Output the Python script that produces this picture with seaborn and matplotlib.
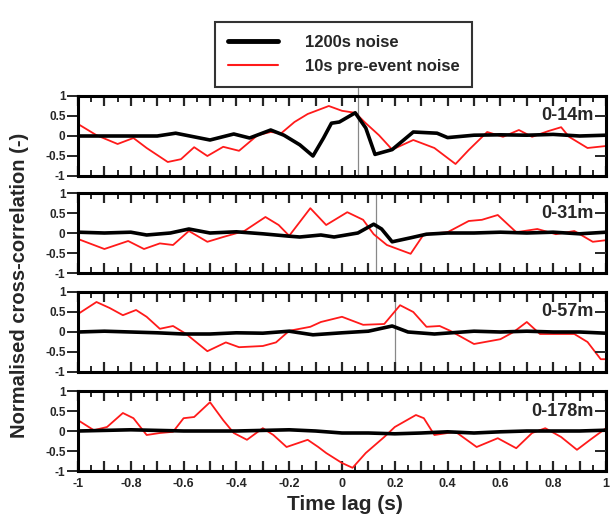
import numpy as np
import pandas as pd
import matplotlib
matplotlib.use('Agg')
import matplotlib.pyplot as plt
from matplotlib.ticker import MultipleLocator, FuncFormatter
from matplotlib.lines import Line2D
import seaborn as sns

sns.set_style('white')
plt.rcParams['font.family'] = ['Liberation Sans', 'DejaVu Sans']
plt.rcParams['font.weight'] = 'bold'

# distances labelled in each panel
labels = ['0-14m', '0-31m', '0-57m', '0-178m']
# time lag of the grey marker line per panel (None = no line)
marker_lag = [0.06, 0.13, 0.2, None]

# 1200s noise (black)
black_t1 = [-1, -0.8, -0.7, -0.63, -0.5, -0.41, -0.35, -0.27, -0.22, -0.16, -0.11, -0.07, -0.04, -0.01,
            0.05, 0.09, 0.125, 0.19, 0.27, 0.36, 0.4, 0.5, 0.6, 0.7, 0.8, 0.9, 1.0]
black_v1 = [0.0, 0.0, 0.0, 0.07, -0.1, 0.05, -0.05, 0.15, 0.02, -0.22, -0.5, -0.05, 0.32, 0.35,
            0.58, 0.2, -0.46, -0.34, 0.1, 0.07, -0.04, 0.02, 0.03, 0.02, 0.04, 0.0, 0.02]
black_t2 = [-1, -0.9, -0.8, -0.74, -0.65, -0.58, -0.5, -0.4, -0.3, -0.2, -0.16, -0.08, -0.03, 0.06,
            0.12, 0.15, 0.19, 0.26, 0.32, 0.4, 0.5, 0.6, 0.7, 0.8, 0.9, 1.0]
black_v2 = [0.02, 0.0, 0.02, -0.05, 0.0, 0.1, 0.0, 0.03, -0.02, -0.08, -0.1, -0.05, -0.1, 0.0,
            0.22, 0.1, -0.22, -0.12, -0.03, 0.0, 0.0, 0.02, 0.0, 0.02, -0.02, 0.02]
black_t3 = [-1, -0.9, -0.8, -0.7, -0.6, -0.5, -0.4, -0.3, -0.2, -0.11, 0.0, 0.1, 0.19, 0.25, 0.35,
            0.5, 0.6, 0.7, 0.8, 0.9, 1.0]
black_v3 = [0.0, 0.02, 0.0, -0.02, -0.05, -0.05, -0.02, -0.03, 0.02, -0.07, -0.02, 0.02, 0.15, 0.0, -0.05,
            0.02, 0.0, 0.02, 0.0, 0.0, -0.03]
black_t4 = [-1, -0.8, -0.6, -0.4, -0.2, -0.1, 0.0, 0.1, 0.2, 0.3, 0.4, 0.5, 0.6, 0.7, 0.8, 0.9, 1.0]
black_v4 = [0.0, 0.03, 0.0, 0.0, 0.03, 0.0, -0.05, -0.05, -0.07, -0.05, -0.02, -0.05, -0.02, 0.0, 0.0, 0.0, 0.02]

# 10s pre-event noise (red)
red_t1 = [-1, -0.93, -0.85, -0.79, -0.74, -0.66, -0.61, -0.56, -0.51, -0.45, -0.39, -0.32, -0.27, -0.23,
          -0.18, -0.13, -0.09, -0.05, 0.0, 0.05, 0.09, 0.14, 0.19, 0.27, 0.35, 0.43, 0.48, 0.55, 0.61,
          0.67, 0.72, 0.78, 0.83, 0.86, 0.93, 1.0]
red_v1 = [0.3, 0.02, -0.2, -0.05, -0.3, -0.65, -0.58, -0.28, -0.5, -0.27, -0.37, 0.02, 0.1, 0.07,
          0.35, 0.55, 0.65, 0.75, 0.63, 0.58, 0.32, 0.02, -0.34, -0.1, -0.3, -0.7, -0.35, 0.1, -0.02,
          0.15, -0.02, 0.12, 0.22, -0.02, -0.3, -0.25]
red_t2 = [-1, -0.9, -0.81, -0.75, -0.69, -0.64, -0.58, -0.51, -0.45, -0.37, -0.29, -0.24, -0.2, -0.12,
          -0.06, 0.02, 0.08, 0.12, 0.17, 0.26, 0.31, 0.4, 0.48, 0.53, 0.59, 0.66, 0.74, 0.81, 0.88,
          0.95, 1.0]
red_v2 = [-0.15, -0.4, -0.2, -0.4, -0.26, -0.3, 0.05, -0.22, -0.1, 0.05, 0.4, 0.2, -0.07, 0.62,
          0.2, 0.52, 0.33, -0.03, -0.3, -0.52, -0.03, 0.02, 0.3, 0.33, 0.45, 0.02, 0.1, -0.03, 0.05,
          -0.22, -0.18]
red_t3 = [-1, -0.93, -0.88, -0.83, -0.78, -0.74, -0.69, -0.64, -0.59, -0.51, -0.44, -0.39, -0.3, -0.25,
          -0.2, -0.12, -0.08, 0.0, 0.08, 0.16, 0.22, 0.27, 0.32, 0.37, 0.41, 0.5, 0.6, 0.65, 0.7,
          0.75, 0.88, 0.93, 0.98, 1.0]
red_v3 = [0.45, 0.75, 0.6, 0.42, 0.55, 0.38, 0.08, 0.15, -0.05, -0.48, -0.26, -0.38, -0.35, -0.26,
          0.03, 0.13, 0.25, 0.38, 0.18, 0.2, 0.67, 0.5, 0.13, 0.15, 0.03, -0.3, -0.18, 0.0, 0.25,
          -0.05, -0.05, -0.25, -0.68, -0.68]
red_t4 = [-1, -0.94, -0.89, -0.83, -0.79, -0.74, -0.69, -0.64, -0.6, -0.56, -0.5, -0.45, -0.41, -0.36,
          -0.3, -0.26, -0.21, -0.13, -0.09, -0.06, 0.0, 0.04, 0.09, 0.16, 0.2, 0.28, 0.31, 0.35, 0.43,
          0.51, 0.59, 0.66, 0.72, 0.77, 0.83, 0.89, 0.94, 1.0]
red_v4 = [0.27, 0.02, 0.1, 0.45, 0.32, -0.1, -0.05, -0.02, 0.32, 0.35, 0.72, 0.27, -0.05, -0.22,
          0.07, -0.1, -0.4, -0.22, -0.4, -0.55, -0.8, -0.92, -0.55, -0.15, 0.1, 0.4, 0.32, -0.1, -0.02,
          -0.4, -0.18, -0.43, -0.05, 0.07, -0.15, -0.47, -0.22, 0.07]

black_t = [black_t1, black_t2, black_t3, black_t4]
black_v = [black_v1, black_v2, black_v3, black_v4]
red_t = [red_t1, red_t2, red_t3, red_t4]
red_v = [red_v1, red_v2, red_v3, red_v4]

W, H = 611, 516
fig = plt.figure(figsize=(W / 100, H / 100), dpi=100)

tops = [96, 193, 292, 391]
ph = 80
RED = '#ff1a1a'


def xfmt(x, pos):
    # label only every 0.2
    if abs(round(x / 0.2) * 0.2 - x) > 1e-6:
        return ''
    return '%g' % round(x, 2)


for i in range(4):
    ax = fig.add_axes([78 / W, 1 - (tops[i] + ph) / H, 528 / W, ph / H])
    sns.lineplot(x=red_t[i], y=red_v[i], ax=ax, color=RED, lw=1.3, sort=False)
    sns.lineplot(x=black_t[i], y=black_v[i], ax=ax, color='black', lw=2.6, sort=False)
    if marker_lag[i] is not None:
        ax.axvline(marker_lag[i], color='#888888', lw=0.9, zorder=0)
    ax.set_xlim(-1, 1)
    ax.set_ylim(-1, 1)
    for sp in ax.spines.values():
        sp.set_visible(True)
        sp.set_linewidth(2.2)
        sp.set_color('black')
    ax.xaxis.set_major_locator(MultipleLocator(0.1))
    ax.xaxis.set_minor_locator(MultipleLocator(0.05))
    ax.xaxis.set_major_formatter(FuncFormatter(xfmt))
    ax.tick_params(axis='x', which='major', direction='in', top=True, bottom=True,
                   length=7, width=1.6, labelsize=9, pad=5)
    ax.tick_params(axis='x', which='minor', direction='in', top=True, bottom=True,
                   length=4, width=1.4)
    ax.set_yticks([-1, -0.5, 0, 0.5, 1])
    ax.set_yticklabels(['-1', '-0.5', '0', '0.5', '1'])
    ax.tick_params(axis='y', which='major', direction='out', left=True, length=8,
                   width=1.4, labelsize=8.5, pad=1)
    ax.tick_params(axis='y', which='minor', left=False)
    if i < 3:
        ax.tick_params(axis='x', labelbottom=False)
    ax2 = ax.twinx()
    ax2.set_ylim(-1, 1)
    ax2.set_yticks([-0.5, 0.5])
    ax2.tick_params(axis='y', direction='in', length=8, width=1.4, labelright=False)
    for sp in ax2.spines.values():
        sp.set_visible(False)
    ax.text(0.955, 0.5, labels[i], transform=ax.transData,
            ha='right', va='center', fontsize=13, fontweight='bold')
    ax.set_xlabel('')
    ax.set_ylabel('')
    if i == 0:
        ax.plot([marker_lag[0], marker_lag[0]], [1, 1.2], color='#888888', lw=0.9, clip_on=False)

fig.text(345 / W, 1 - 505 / H, 'Time lag (s)', ha='center', va='center',
         fontsize=15, fontweight='bold')
fig.text(20 / W, 1 - 285 / H, 'Normalised cross-correlation (-)', ha='center', va='center',
         rotation=90, fontsize=14.5, fontweight='bold')

handles = [Line2D([], [], color='black', lw=3.5),
           Line2D([], [], color=RED, lw=1.5)]
leg = fig.legend(handles, ['1200s noise', '10s pre-event noise'], loc='upper left',
                 bbox_to_anchor=(207 / W, 1 - 14 / H), frameon=True, fancybox=False,
                 edgecolor='black', prop={'weight': 'bold', 'size': 12},
                 handlelength=3.0, borderpad=0.75, labelspacing=0.55, handletextpad=1.6)
leg.get_frame().set_linewidth(1.5)

fig.savefig('out.png', dpi=100)
